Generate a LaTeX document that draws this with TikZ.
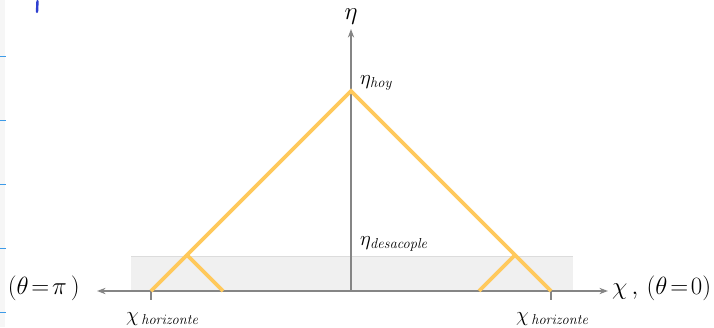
\documentclass[tikz,border=0pt]{standalone}
\usepackage{amsmath,amssymb}
\usepackage{xcolor}
\usepackage{tikz}
\usetikzlibrary{arrows.meta,positioning}
\definecolor{AxisGray}{HTML}{858585}
\definecolor{RayGold}{HTML}{FFC95C}
\definecolor{BandGray}{HTML}{F0F0F0}
\definecolor{BandEdge}{HTML}{DCDCDC}
\definecolor{PenBlue}{HTML}{2E3FD0}
\definecolor{RuleBlue}{HTML}{3D9BE8}
\definecolor{MarginGray}{HTML}{F6F6F6}
\tikzset{
  axis/.style={-{Stealth[length=3mm,width=2.2mm]},line width=2pt,draw=AxisGray},
  ray/.style={line width=3.6pt,draw=RayGold},
  band/.style={fill=BandGray,draw=none},
  tickmark/.style={line width=2pt,draw=AxisGray},
  lbl/.style={font=\fontsize{23}{27}\selectfont,inner sep=0pt},
  sublbl/.style={font=\fontsize{22}{26}\selectfont,inner sep=0pt}
}

\begin{document}
\begin{tikzpicture}[x=1pt,y=-1pt]
  \useasboundingbox (0,0) rectangle (714,327);
  % notebook margin
  \fill[MarginGray] (0,0) rectangle (5,327);
  \foreach \yy in {56,120,184,248,312}
    \draw[RuleBlue,line width=0.8pt] (0,\yy) -- (6,\yy);
  \draw[PenBlue,line width=2.4pt,line cap=round] (37.5,1) -- (37,12);

  % coordinates
  \coordinate (origin) at (351,291);
  \coordinate (xleft) at (97,291);
  \coordinate (xright) at (608,291);
  \coordinate (ytop) at (351,29);
  \coordinate (apex) at (351,91);
  \coordinate (hl) at (151,291);
  \coordinate (hr) at (551,291);
  \coordinate (jl) at (187,255);
  \coordinate (jr) at (515,255);
  \coordinate (bl) at (223,291);
  \coordinate (br) at (479,291);

  % decoupling band
  \fill[band] (131,256) rectangle (573,291);
  \draw[BandEdge,line width=0.8pt] (131,256) -- (573,256);

  % axes
  \draw[axis] (origin) -- (xright);
  \draw[axis] (origin) -- (xleft);
  \draw[axis] (origin) -- (ytop);
  \draw[tickmark] (hl) -- ++(0,9);
  \draw[tickmark] (hr) -- ++(0,9);

  % light rays
  \draw[ray] (hl) -- (apex) -- (hr);
  \draw[ray] (jl) -- (bl);
  \draw[ray] (jr) -- (br);

  % labels
  \node[lbl,above=4pt of ytop] (eta) {$\eta$};
  \node[sublbl,anchor=base west] (etahoy) at (360,84) {$\eta_{\mathit{hoy}}$};
  \node[sublbl,anchor=base west] (etadec) at (360,245) {$\eta_{\mathit{desacople}}$};
  \node[lbl,anchor=east] (thpi) at (80,288) {$(\theta\!=\!\pi\,)$};
  \node[lbl,anchor=west] (thzero) at (612,288) {$\chi\,,\,(\theta\!=\!0)$};
  \node[sublbl,anchor=base west] (chil) at (126,321) {$\chi_{\,\mathit{horizonte}}$};
  \node[sublbl,anchor=base west] (chir) at (516,321) {$\chi_{\,\mathit{horizonte}}$};
\end{tikzpicture}
\end{document}
